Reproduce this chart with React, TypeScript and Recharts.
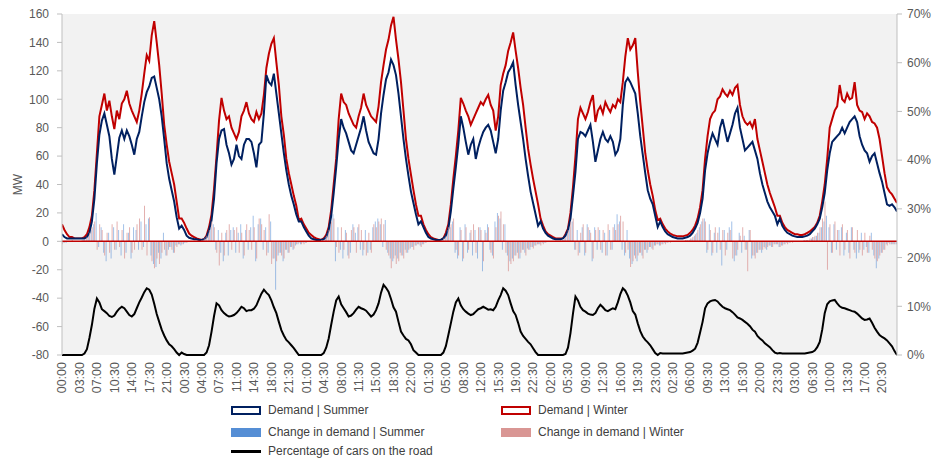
import React from 'react';
import { ComposedChart, Area, Bar, Line, XAxis, YAxis, CartesianGrid, ReferenceLine } from 'recharts';

// Demand | Winter (MW), half-hourly, one row per day
const demandWinter: number[] = [
  12,8,5,3,3,2,2,2,2,3, 5,10,18,36,62,88,96,104,92,99, 88,79,92,86,97,100,106,97,92,88, 84,92,104,118,131,127,145,155,140,124, 104,82,68,56,48,40,28,16,
  16,13,9,5.5,4,3,2,1.5,1,1.5, 4,10,19,37,60,85,101,92,86,88, 80,76,72,77,88,92,98,90,86,84, 91,86,90,103,122,132,139,143,126,110, 88,75,58,48,40,32,25,15,
  16,12,9,6,4.5,3,2,1.5,1,2, 4.5,10,22,40,58,86,104,98,96,90, 86,82,80,88,94,104,96,92,88,86, 84,95,112,124,135,142,152,158,142,128, 112,92,72,58,47,36,26,18,
  18,12,8,5,3,2,1.5,1,1,2, 6,12,26,44,60,78,101,97,92,88, 82,86,90,94,98,96,100,103,96,92, 78,88,110,118,124,134,140,147,134,122, 108,96,80,65,54,44,35,26,
  16,11,7,5,4,3,2,2,2,2, 5,9,20,38,60,86,94,90,86,91, 98,103,84,92,95,90,98,94,91,96, 94,100,98,112,130,143,135,138,143,119, 98,80,62,50,40,32,22,15,
  16,12,9,7,5.5,4.5,4,3.5,3.5,3.5, 4,4.5,6,8,11,16,24,36,58,74, 86,90,92,100,102,107,104,102,106,103, 108,110,96,88,84,82,84,80,86,72, 64,56,48,40,34,29,24,18,
  18,13,10,8,7,6,5,5,4.5,4.5, 5,6,7,8.5,10,13,18,28,40,58, 80,86,92,95,110,100,98,104,100,101, 112,96,92,91,86,90,88,84,83,80, 72,60,48,38,35,33,30,27,
];

// Demand | Summer (MW)
const demandSummer: number[] = [
  5,3,2,2,2,2,2,2,2,2, 3,6,14,30,55,75,85,90,82,74, 58,47,60,73,78,72,78,74,68,61, 72,77,88,98,105,109,115,116,108,100, 88,72,55,44,36,28,17,9,
  11,8,4,2.5,2,1.5,1.5,1,1,1.5, 3,8,15,30,55,72,78,79,68,62, 54,58,68,60,58,68,72,72,70,62, 52,68,70,90,117,112,110,118,104,90, 76,62,50,40,32,26,19,14,
  14,10,7,4,2,1.5,1,1,1,1.5, 3,8,18,34,52,72,86,80,76,70, 64,62,68,74,80,88,78,70,66,62, 61,72,90,103,114,119,128,124,117,104, 88,72,58,46,35,27,19,12,
  14,10,6,3,2,1.5,1,1,1,2, 4,9,21,37,52,68,88,80,70,61, 68,72,58,66,72,77,80,82,78,70, 62,72,92,106,112,119,122,126,110,96, 84,72,58,46,35,27,19,11,
  14,9,6,4,3,2,1.5,1.5,1.5,2, 4,8,16,32,49,72,77,76,74,78, 82,70,56,64,72,77,72,70,74,70, 61,64,72,96,112,115,112,108,104,90, 74,61,48,36,30,26,18,10,
  14,10,7,5,4,3,2.5,2,2,2, 2.5,3,4,6,9,13,20,30,50,62, 70,76,72,68,80,86,78,70,76,82, 90,94,80,72,64,66,68,70,64,58, 48,40,34,28,24,21,18,12,
  16,11,8,6,5,4,3.5,3,3,3, 3.5,4,5,7,9,12,16,24,34,50, 62,70,72,74,76,80,76,80,84,86, 88,84,74,68,64,62,56,60,62,55, 48,42,34,26,25,26,24,21,
];

// Change in demand | Summer (MW)
const changeSummer: number[] = [
  0,-1,-1,0,0,0,0,0,0,1, 2,4,8,12,20,-4,10,-8,-14,6, -12,10,-6,8,-10,12,-8,6,-12,10, 8,-6,14,-4,12,16,-10,-16,-18,-8, -12,6,-10,-6,-4,-8,-3,-2,
  -3,-2,-1,0,0,0,0,0,0,1, 3,6,10,12,-6,8,-8,-14,6,-10, 8,10,-8,6,12,-12,8,-6,10,18, -14,12,16,-6,10,-8,14,-12,-34,-10, -8,-14,-6,-8,-4,-6,-3,-2,
  -2,-1,-1,0,0,0,0,0,0,1, 3,6,12,19,-14,10,-6,-12,8,-10, -8,12,6,10,-6,-10,8,-8,-6,10, 14,16,12,-4,15,-8,-12,-14,-10,-12, -8,-10,-6,-8,-5,-4,-3,-2,
  -3,-2,-1,0,0,0,0,0,0,1, 3,8,10,14,-8,-12,10,-14,12,-8, 6,-10,8,-12,10,-21,8,12,-6,-10, 14,20,16,-6,12,-10,-14,-12,-10,-8, -12,-6,-8,-5,-6,-4,-3,-2,
  -2,-1,-1,0,0,0,0,0,0,1, 2,6,10,14,-6,8,-8,10,-10,12, 8,-14,10,-6,8,-8,6,-10,8,-6, 12,19,14,-6,-10,8,-12,-16,-10,-14, -8,-10,-6,-8,-4,-5,-3,-2,
  -3,-2,-1,-1,0,0,0,0,0,0, 0,1,1,2,4,6,10,14,16,-8, 12,-10,6,-8,10,-17,8,-6,10,14, -14,-10,6,-8,4,-6,8,-12,-10,-8, -6,-8,-4,-6,-3,-4,-2,-2,
  -4,-3,-2,-1,-1,0,0,0,0,0, 1,1,1,2,3,4,6,10,14,18, 10,-8,12,-6,8,10,-10,6,-8,10, -6,-12,-8,6,-6,-4,-8,6,-10,-19, -12,-8,-6,-2,-1,-2,-2,-2,
];

// Change in demand | Winter (MW)
const changeWinter: number[] = [
  -2,-1,0,0,1,0,0,0,1,1, 3,6,10,14,-6,12,8,-10,6,-8, 12,-6,14,-4,8,-12,6,10,-8,-6, 12,16,-6,25,-10,17,-14,-19,-12,-16, -8,-6,-10,-4,-6,-8,-4,-2,
  -2,-1,-1,0,0,0,0,0,1,2, 4,8,14,10,-8,-17,6,-10,8,12, -6,8,10,-8,6,-10,12,8,-6,10, -12,16,12,8,-10,19,-16,-12,-14,-8, -10,-12,-6,-8,-4,-5,-2,-1,
  -2,-2,-1,0,0,0,0,0,1,1, 4,8,14,16,-4,-8,10,-6,6,-12, 8,10,-8,12,8,-6,-10,6,-8,12, 10,14,16,12,-6,-10,-19,-12,-16,-14, -10,-12,-8,-6,-4,-6,-3,-2,
  -4,-2,-1,0,0,0,0,0,1,2, 4,10,12,16,-6,-10,8,-12,10,-6, 8,12,-8,10,8,-14,6,10,-8,-12, 10,18,21,12,-8,-21,-16,-14,-10,-12, -8,-6,-10,-6,-4,-5,-3,-2,
  -3,-2,-1,0,0,0,0,0,1,1, 3,8,14,16,-6,-10,6,12,-8,10, 6,-12,8,10,-6,8,-10,12,-6,10, 8,12,18,14,-8,-6,-18,-14,-12,-10, -8,-12,-6,-6,-4,-6,-3,-2,
  -3,-2,-2,-1,-1,0,0,0,0,0, 1,1,2,3,5,8,12,16,14,-6, 8,-8,10,6,-6,8,-10,6,8,-12, -10,-6,4,10,-6,-21,8,-10,-12,-8, -6,-6,-5,-4,-3,-4,-2,-2,
  -4,-3,-2,-2,-1,-1,0,0,0,0, 1,1,2,3,4,6,10,16,28,-20, 12,-8,14,8,-10,12,-6,8,-12,10, -8,8,-6,-10,6,-8,4,-6,-12,-14, -10,-8,-6,-3,-2,-2,-2,-2,
];

// Percentage of cars on the road (%)
const carsOnRoad: number[] = [
  0,0,0,0,0,0,0,0,0,0.3, 1.2,3.5,6.2,9.5,11.6,10.8,9.4,9.0,8.6,8.0, 7.8,8.1,8.9,9.5,9.9,9.6,8.9,8.2,7.9,8.4, 9.6,10.8,11.8,12.9,13.7,13.4,12.4,10.5,8.4,6.8, 5.2,4.0,3.0,2.2,1.8,1.2,0.5,0,
  0.5,0.2,0,0,0,0,0,0,0,0, 0.5,2,4.8,8,10.6,10.2,9.2,8.6,8.2,7.9, 8.0,8.2,8.6,9.2,9.9,9.6,9.0,9.2,9.2,9.5, 10.2,11.4,12.6,13.4,12.8,12.3,11.2,9.8,8.6,6.8, 5.1,4.0,3.1,2.6,2.0,1.4,0.7,0,
  0,0,0,0,0,0,0,0,0,0.4, 1.5,3.4,6.2,8.9,11.2,12,10.4,9.6,8.8,7.9, 8.1,8.6,9.3,9.9,9.6,9.4,9.1,8.5,7.9,8.3, 9.2,10.6,12.8,14.4,13.8,13,11.5,9.8,8.9,6.8, 4.8,4.0,3.3,3.0,2.2,1.0,0.5,0,
  0,0,0,0,0,0,0,0,0,0.5, 1.8,4.1,6.5,8.9,10.8,11.6,10.2,9.4,8.9,8.5, 8.2,8.4,8.9,9.4,9.6,9.9,9.6,9.3,9.4,9.2, 9.9,11.2,12.3,13.7,13.2,12.3,10.6,9.0,8.2,6.6, 4.8,3.9,3.3,2.7,2.2,1.4,0.6,0,
  0,0,0,0,0,0,0,0,0,0, 0.2,1.5,4.5,8.5,12,11.2,9.9,9.2,8.9,8.5, 8.3,8.2,8.6,9.6,10.3,9.8,9.2,9.0,9.3,9.6, 9.4,10.8,12.5,13.7,13.2,12.2,10.8,9.0,8.3,6.5, 4.9,3.8,3.1,2.6,2.0,1.2,0.4,0,
  0.4,0.3,0.3,0.3,0.3,0.3,0.3,0.3,0.3,0.3, 0.4,0.5,0.6,0.9,1.3,2.5,4.6,6.8,9.6,10.6, 11.0,11.2,11.3,11.0,10.4,9.9,9.6,9.4,9.2,8.8, 8.3,7.7,7.5,7.2,6.8,6.4,5.9,5.2,4.8,3.9, 3.4,3.0,2.4,2.0,1.6,1.0,0.5,0.3,
  0.4,0.3,0.3,0.3,0.3,0.3,0.3,0.3,0.3,0.3, 0.3,0.4,0.5,0.6,0.9,1.6,2.7,5.2,8.6,10.4, 11.0,11.2,11.3,10.6,10.0,9.7,9.6,9.4,9.2,9.0, 8.9,8.5,8.0,7.5,7.2,7.3,7.5,6.6,5.6,4.8, 4.1,3.7,3.4,3.0,2.4,1.8,0.8,0,
];

const timeLabels: string[] = [
  '00:00','03:30','07:00','10:30','14:00','17:30','21:00',
  '00:30','04:00','07:30','11:00','14:30','18:00','21:30',
  '01:00','04:30','08:00','11:30','15:00','18:30','22:00',
  '01:30','05:00','08:30','12:00','15:30','19:00','22:30',
  '02:00','05:30','09:00','12:30','16:00','19:30','23:00',
  '02:30','06:00','09:30','13:00','16:30','20:00','23:30',
  '03:00','06:30','10:00','13:30','17:00','20:30',
];

const mwTicks = [-80, -60, -40, -20, 0, 20, 40, 60, 80, 100, 120, 140, 160];
const pctTicks = [0, 0.1, 0.2, 0.3, 0.4, 0.5, 0.6, 0.7];

const STEP_HOURS = 0.5;
const LABEL_EVERY_HOURS = 3.5;

const data = demandSummer.map((v, i) => ({
  t: i * STEP_HOURS,
  summer: v,
  winter: demandWinter[i],
  dSummer: changeSummer[i],
  dWinter: changeWinter[i],
  cars: carsOnRoad[i] / 100,
}));

const xTicks = timeLabels.map((_, i) => i * LABEL_EVERY_HOURS);

const FONT = '"Liberation Sans", Arial, sans-serif';
const AXIS_TEXT = '#595959';
const NAVY = '#002060';
const RED = '#c00000';
const BLUE_FILL = '#558ed5';
const PINK_FILL = '#d99694';

const XTick = (props: any) => {
  const { x, y, payload } = props;
  const idx = Math.round(payload.value / LABEL_EVERY_HOURS);
  return (
    <text
      x={x}
      y={y}
      transform={`rotate(-90, ${x}, ${y})`}
      textAnchor="end"
      dy="0.35em"
      fill={AXIS_TEXT}
      fontSize={12.5}
      fontFamily={FONT}
    >
      {timeLabels[idx]}
    </text>
  );
};

const MWLabel = (props: any) => {
  const vb = props && props.viewBox;
  const cx = 18;
  const cy = vb && typeof vb.y === 'number' ? vb.y + vb.height / 2 : 186;
  return (
    <text
      x={cx}
      y={cy}
      transform={`rotate(-90, ${cx}, ${cy})`}
      textAnchor="middle"
      dominantBaseline="central"
      fill={AXIS_TEXT}
      fontSize={12}
      fontFamily={FONT}
    >
      MW
    </text>
  );
};

const legendText: React.CSSProperties = {
  fontSize: 12,
  color: '#404040',
  fontFamily: FONT,
  whiteSpace: 'nowrap',
};

const LegendItem = ({ left, top, icon, label }: { left: number; top: number; icon: React.ReactNode; label: string }) => (
  <div style={{ position: 'absolute', left, top, display: 'flex', alignItems: 'center', height: 16 }}>
    <div style={{ width: 30, height: 16, display: 'flex', alignItems: 'center' }}>{icon}</div>
    <span style={{ ...legendText, marginLeft: 7 }}>{label}</span>
  </div>
);

export default function App() {
  return (
    <div style={{ position: 'absolute', left: 0, top: 0, width: 935, height: 461, background: '#fff', fontFamily: FONT }}>
      <ComposedChart
        width={935}
        height={461}
        data={data}
        margin={{ top: 14, right: 0, left: 12, bottom: 60 }}
        barGap={0}
      >
        <CartesianGrid yAxisId="left" fill="#f2f2f2" horizontal={false} vertical={false} stroke="none" />
        <XAxis
          dataKey="t"
          type="number"
          domain={[0, 167.5]}
          ticks={xTicks}
          interval={0}
          tick={<XTick />}
          tickLine={false}
          tickSize={0}
          tickMargin={7}
          axisLine={false}
          height={46}
          allowDataOverflow
        />
        <YAxis
          yAxisId="left"
          domain={[-80, 160]}
          ticks={mwTicks}
          interval={0}
          width={50}
          tick={{ fill: AXIS_TEXT, fontSize: 12, fontFamily: FONT }}
          tickSize={5}
          tickMargin={8}
          axisLine={{ stroke: '#bfbfbf' }}
          tickLine={{ stroke: '#bfbfbf' }}
          label={<MWLabel />}
        />
        <YAxis
          yAxisId="right"
          orientation="right"
          domain={[0, 0.7]}
          ticks={pctTicks}
          interval={0}
          width={38}
          tick={{ fill: AXIS_TEXT, fontSize: 12, fontFamily: FONT, textAnchor: 'start' }}
          tickFormatter={(v: number) => `${Math.round(v * 100)}%`}
          tickSize={5}
          tickMargin={5}
          axisLine={{ stroke: '#bfbfbf' }}
          tickLine={{ stroke: '#bfbfbf' }}
        />
        <Area
          yAxisId="left"
          type="linear"
          dataKey="winter"
          stroke={RED}
          strokeWidth={2}
          fill="#ffffff"
          fillOpacity={1}
          baseValue={0}
          isAnimationActive={false}
          dot={false}
          activeDot={false}
        />
        <Area
          yAxisId="left"
          type="linear"
          dataKey="summer"
          stroke={NAVY}
          strokeWidth={2}
          fill="#ffffff"
          fillOpacity={1}
          baseValue={0}
          isAnimationActive={false}
          dot={false}
          activeDot={false}
        />
        <Bar yAxisId="left" dataKey="dSummer" fill={BLUE_FILL} fillOpacity={0.55} barSize={1} isAnimationActive={false} />
        <Bar yAxisId="left" dataKey="dWinter" fill={PINK_FILL} fillOpacity={0.75} barSize={1} isAnimationActive={false} />
        <ReferenceLine yAxisId="left" y={0} stroke={RED} strokeWidth={1.5} />
        <Line
          yAxisId="right"
          type="linear"
          dataKey="cars"
          stroke="#000000"
          strokeWidth={2}
          dot={false}
          activeDot={false}
          isAnimationActive={false}
        />
      </ComposedChart>

      <LegendItem left={231} top={402} label="Demand | Summer"
        icon={<div style={{ width: 26, height: 5, border: `2px solid ${NAVY}`, background: '#fff' }} />} />
      <LegendItem left={501} top={402} label="Demand | Winter"
        icon={<div style={{ width: 26, height: 5, border: `2px solid ${RED}`, background: '#fff' }} />} />
      <LegendItem left={231} top={424} label="Change in demand | Summer"
        icon={<div style={{ width: 30, height: 9, background: BLUE_FILL }} />} />
      <LegendItem left={501} top={424} label="Change in demand | Winter"
        icon={<div style={{ width: 30, height: 9, background: PINK_FILL }} />} />
      <LegendItem left={231} top={443} label="Percentage of cars on the road"
        icon={<div style={{ width: 30, height: 3, background: '#000' }} />} />
    </div>
  );
}
